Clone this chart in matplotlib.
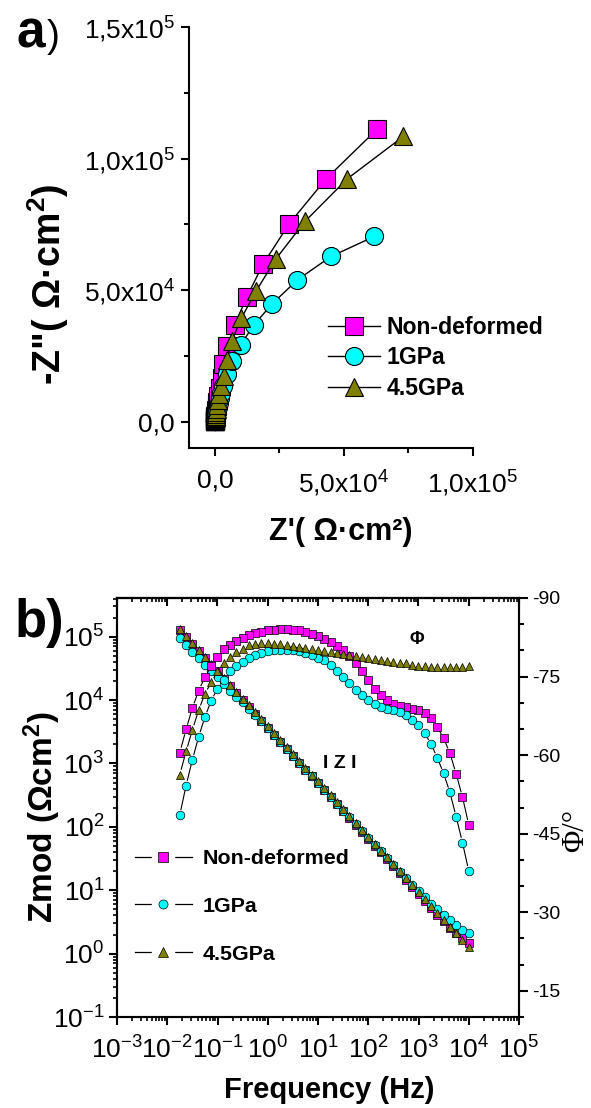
import numpy as np
import matplotlib
matplotlib.use('Agg')
from matplotlib import pyplot as plt
from matplotlib.lines import Line2D
from matplotlib.ticker import LogLocator, NullFormatter, FixedLocator, FixedFormatter
from matplotlib.legend_handler import HandlerTuple

plt.rcParams['font.family'] = ['Liberation Sans', 'DejaVu Sans']
plt.rcParams['mathtext.fontset'] = 'custom'
plt.rcParams['mathtext.rm'] = 'Liberation Sans'
plt.rcParams['mathtext.bf'] = 'Liberation Sans:bold'
plt.rcParams['mathtext.it'] = 'Liberation Sans:italic'
plt.rcParams['axes.linewidth'] = 1.5
plt.rcParams['axes.unicode_minus'] = False

names = ['Non-deformed', '1GPa', '4.5GPa']
colors = ['#FF00FF', '#00FFFF', '#808000']
markers = ['s', 'o', '^']

# a) Nyquist data (ohm cm2), from high to low frequency
zre_nd = [30, 40, 45, 50, 60, 70, 90, 110, 140, 180, 230, 295, 390, 520, 700, 950, 1300, 1830,
          2600, 3300, 4800, 7750, 12300, 18700, 28800, 43100, 63000]
zim_nd = [176, 226, 290, 375, 480, 620, 800, 1020, 1310, 1690, 2180, 2790, 3590, 4620, 5930, 7610,
          9770, 12700, 16500, 22000, 28600, 36800, 47200, 59900, 75200, 92300, 111300]
zre_1 = [46, 54, 64, 80, 100, 120, 150, 180, 230, 300, 380, 490, 640, 840, 1100, 1450, 1940, 2500,
         3000, 4800, 6700, 10000, 15000, 22200, 32000, 45000, 61800]
zim_1 = [172, 222, 286, 370, 475, 610, 790, 1010, 1300, 1670, 2160, 2770, 3550, 4510, 5730, 7180,
         9000, 11000, 13400, 18100, 23200, 29200, 36600, 44800, 53900, 62800, 70400]
zre_45 = [35, 45, 56, 70, 90, 110, 140, 180, 220, 280, 360, 450, 580, 750, 970, 1280, 1780, 2430,
          3430, 4600, 6500, 10300, 15900, 23600, 34900, 51300, 73000]
zim_45 = [187, 240, 310, 400, 510, 660, 850, 1090, 1400, 1800, 2310, 2980, 3830, 4920, 6330, 8120,
          10400, 13400, 17200, 23500, 30500, 39400, 49500, 61800, 76100, 92300, 108400]

# b) Bode data
freq = [10000, 7499, 5623, 4217, 3162, 2371, 1778, 1334, 1000, 749.9, 562.3, 421.7, 316.2, 237.1,
        177.8, 133.4, 100, 74.99, 56.23, 42.17, 31.62, 23.71, 17.78, 13.34, 10, 7.499, 5.623, 4.217,
        3.162, 2.371, 1.778, 1.334, 1, 0.7499, 0.5623, 0.4217, 0.3162, 0.2371, 0.1778, 0.1334, 0.1,
        0.07499, 0.05623, 0.04217, 0.03162, 0.02371, 0.01778]
zmod_nd = [1.47, 1.74, 2.09, 2.55, 3.23, 4.13, 5.30, 6.80, 8.75, 11.3, 14.5, 18.6, 23.9, 30.7, 39.5,
           50.7, 65.1, 83.7, 107, 138, 178, 229, 294, 378, 485, 623, 801, 1030, 1324, 1702, 2187,
           2811, 3614, 4644, 5969, 7671, 9860, 12700, 16500, 21400, 28300, 36300, 46900, 60400,
           77900, 100500, 128500]
zmod_1 = [2.14, 2.40, 2.86, 3.43, 4.12, 5.13, 6.17, 7.76, 9.77, 12.3, 15.5, 19.7, 25.1, 32.1, 41.1,
          52.5, 67.3, 86.1, 110, 141, 180, 230, 295, 378, 485, 624, 802, 1030, 1324, 1702, 2188,
          2812, 3614, 4592, 5834, 7328, 9204, 11300, 13800, 17800, 22900, 28800, 36300, 46800,
          58300, 74400, 96000]
zmod_45 = [1.26, 1.62, 2.08, 2.67, 3.44, 4.42, 5.68, 7.29, 9.38, 12.1, 15.5, 19.9, 25.6, 32.9, 42.3,
           54.3, 69.8, 89.7, 115, 148, 191, 245, 315, 405, 520, 668, 859, 1104, 1419, 1824, 2344,
           3013, 3873, 4977, 6397, 8222, 10570, 13580, 17460, 22440, 28840, 37070, 47640, 61240,
           78700, 101200, 130000]
phase_nd = [-46.7, -52.0, -56.4, -60.4, -63.2, -65.4, -67.0, -68.1, -68.6, -68.9, -69.2, -69.4,
            -69.8, -70.5, -71.5, -72.7, -74.3, -76.1, -77.5, -79.0, -80.1, -80.8, -81.6, -82.2,
            -82.7, -83.2, -83.5, -83.8, -83.95, -84.0, -84.0, -83.95, -83.8, -83.6, -83.3, -82.9,
            -82.4, -81.8, -81.0, -80.2, -78.7, -77.0, -74.9, -72.3, -69.0, -64.9, -60.5]
phase_1 = [-37.9, -43.3, -48.2, -52.9, -56.5, -59.5, -62.1, -64.2, -65.8, -66.8, -67.7, -68.3,
           -68.6, -68.9, -69.2, -69.8, -70.5, -71.5, -72.5, -73.7, -74.9, -76.1, -77.3, -78.1,
           -78.6, -79.1, -79.5, -79.8, -80.0, -80.15, -80.15, -80.0, -79.8, -79.5, -79.1, -78.6,
           -77.8, -77.0, -76.1, -74.3, -72.7, -70.4, -67.3, -63.5, -59.1, -54.2, -48.6]
phase_45 = [-77.0, -76.9, -76.8, -76.8, -76.8, -76.8, -76.9, -77.0, -77.1, -77.3, -77.5, -77.6,
            -77.8, -78.0, -78.1, -78.3, -78.5, -78.7, -78.9, -79.1, -79.3, -79.5, -79.7, -79.9,
            -80.1, -80.3, -80.5, -80.7, -80.9, -81.0, -81.2, -81.3, -81.4, -81.4, -81.3, -81.0,
            -80.3, -79.7, -78.7, -77.6, -76.0, -73.9, -71.7, -68.6, -64.8, -60.7, -56.3]

W, H = 591, 1108


def gapped(ax, x, y, gap):
    # Origin style: connecting segments stop short of the symbols
    pts = ax.transData.transform(np.column_stack([x, y]))
    to_ax = ax.transAxes.inverted()
    for p, q in zip(pts[:-1], pts[1:]):
        d = q - p
        n = np.hypot(d[0], d[1])
        if n > 2 * gap + 1:
            seg = to_ax.transform([p + d / n * gap, q - d / n * gap])
            ax.plot(seg[:, 0], seg[:, 1], transform=ax.transAxes, color='k', lw=0.8, zorder=1)


fig = plt.figure(figsize=(W / 100, H / 100), dpi=100)

# ---------------- a) ----------------
ax1 = fig.add_axes([189 / W, 1 - 448 / H, 284 / W, 421 / H])
nyq = [(zre_nd, zim_nd), (zre_1, zim_1), (zre_45, zim_45)]
for (zr, zi), c, m, lab in zip(nyq, colors, markers, names):
    ax1.plot(zr, zi, color='black', lw=1.0, marker=m, ms=13, mfc=c, mec='black', mew=0.8, label=lab)
ax1.set_xlim(-1e4, 1e5)
ax1.set_ylim(-1e4, 1.5e5)
ax1.spines['top'].set_visible(False)
ax1.spines['right'].set_visible(False)
ax1.set_xticks([0, 5e4, 1e5])
ax1.set_xticklabels(['0,0', '5,0x10$^{4}$', '1,0x10$^{5}$'])
ax1.set_yticks([0, 5e4, 1e5, 1.5e5])
ax1.set_yticklabels(['0,0', '5,0x10$^{4}$', '1,0x10$^{5}$', '1,5x10$^{5}$'])
ax1.xaxis.set_minor_locator(FixedLocator([2.5e4, 7.5e4]))
ax1.yaxis.set_minor_locator(FixedLocator([2.5e4, 7.5e4, 1.25e5]))
ax1.tick_params(which='major', direction='out', length=6, width=1.5, labelsize=19, pad=4)
ax1.tick_params(axis='x', which='major', pad=9)
ax1.tick_params(which='minor', direction='out', length=3.5, width=1.5)

leg1 = ax1.legend(loc='upper left', bbox_to_anchor=(328 / W, 1 - 316 / H), bbox_transform=fig.transFigure,
                  frameon=False, borderpad=0, borderaxespad=0, handlelength=2.25, handletextpad=0.3,
                  labelspacing=0.32, prop={'weight': 'bold', 'size': 16.6})

fig.text(341 / W, 1 - 532 / H, "Z'( \u03a9\u00b7cm\u00b2)", ha='center', va='center', fontsize=22,
         fontweight='bold')
fig.text(48 / W, 1 - 284 / H, '-Z"( \u03a9\u00b7cm$^{\\mathbf{2}}$)', ha='center', va='center',
         rotation=90, fontsize=27, fontweight='bold')
fig.text(17 / W, 1 - 47 / H, 'a', ha='left', va='baseline', fontsize=37, fontweight='bold')
fig.text(47 / W, 1 - 47 / H, ')', ha='left', va='baseline', fontsize=28)

# ---------------- b) ----------------
ax2 = fig.add_axes([117 / W, 1 - 1017 / H, 402 / W, 419 / H])
ax2.set_xscale('log')
ax2.set_yscale('log')
ax2.set_xlim(1e-3, 1e5)
ax2.set_ylim(0.1, 10 ** 5.61)
ax3 = ax2.twinx()
ax3.set_ylim(-10, -90)

zmods = [zmod_nd, zmod_1, zmod_45]
phases = [phase_nd, phase_1, phase_45]
for zm, c, m in zip(zmods, colors, markers):
    gapped(ax2, freq, zm, 5.5)
    ax2.plot(freq, zm, ls='none', marker=m, ms=6.2, mfc=c, mec='black', mew=0.5, zorder=3)
for ph, c, m in zip(phases, colors, markers):
    gapped(ax3, freq, ph, 5.5)
    ax3.plot(freq, ph, ls='none', marker=m, ms=6.2, mfc=c, mec='black', mew=0.5, zorder=3)

for axis in [ax2.xaxis, ax2.yaxis]:
    axis.set_major_locator(LogLocator(base=10, numticks=20))
    axis.set_minor_locator(LogLocator(base=10, subs=np.arange(2, 10), numticks=20))
    axis.set_minor_formatter(NullFormatter())
ax2.tick_params(which='major', direction='out', length=6, width=1.5, labelsize=19, pad=3)
ax2.tick_params(axis='x', which='major', pad=8)
ax2.tick_params(which='minor', direction='out', length=3, width=1.2)

top = ax2.secondary_xaxis('top')
top.xaxis.set_major_locator(LogLocator(base=10, numticks=20))
top.xaxis.set_minor_locator(LogLocator(base=10, subs=np.arange(2, 10), numticks=20))
top.tick_params(which='major', direction='in', length=6, width=1.5, labeltop=False)
top.tick_params(which='minor', direction='in', length=3, width=1.2)

ph_ticks = [-90, -75, -60, -45, -30, -15]
ax3.yaxis.set_major_locator(FixedLocator(ph_ticks))
ax3.yaxis.set_major_formatter(FixedFormatter([str(t) for t in ph_ticks]))
ax3.yaxis.set_minor_locator(FixedLocator([-85, -80, -70, -65, -55, -50, -40, -35, -25, -20, -10]))
ax3.tick_params(which='major', direction='out', length=6.5, width=1.5, labelsize=14, pad=3)
ax3.tick_params(which='minor', direction='out', length=3.5, width=1.5)

handles = []
for c, m in zip(colors, markers):
    ln = Line2D([], [], color='black', lw=0.9)
    halo = Line2D([], [], ls='none', marker='s', ms=16, mfc='white', mec='white')
    mk = Line2D([], [], ls='none', marker=m, ms=6.5, mfc=c, mec='black', mew=0.5)
    handles.append((ln, halo, mk))
ax2.legend(handles, names, handler_map={tuple: HandlerTuple(ndivide=1)}, loc='upper left',
           bbox_to_anchor=(135 / W, 1 - 849 / H), bbox_transform=fig.transFigure, frameon=False,
           borderpad=0, borderaxespad=0, handlelength=2.66, handletextpad=0.5, labelspacing=1.35,
           prop={'weight': 'bold', 'size': 15.4})

fig.text(417 / W, 1 - 639 / H, '\u03a6', ha='center', va='center', fontsize=13, fontweight='bold')
fig.text(340 / W, 1 - 763 / H, 'I Z I', ha='center', va='center', fontsize=14, fontweight='bold')
fig.text(329 / W, 1 - 1090 / H, 'Frequency (Hz)', ha='center', va='center', fontsize=21,
         fontweight='bold')
fig.text(42 / W, 1 - 817 / H, 'Zmod (\u03a9cm$^{\\mathbf{2}}$)', ha='center', va='center', rotation=90,
         fontsize=24, fontweight='bold')
fig.text(576 / W, 1 - 830 / H, '\u03a6/\u00b0', ha='center', va='center', rotation=90, fontsize=22,
         family='Liberation Serif')
fig.text(15 / W, 1 - 637 / H, 'b)', ha='left', va='baseline', fontsize=38, fontweight='bold')

fig.savefig('out.png', dpi=100)
